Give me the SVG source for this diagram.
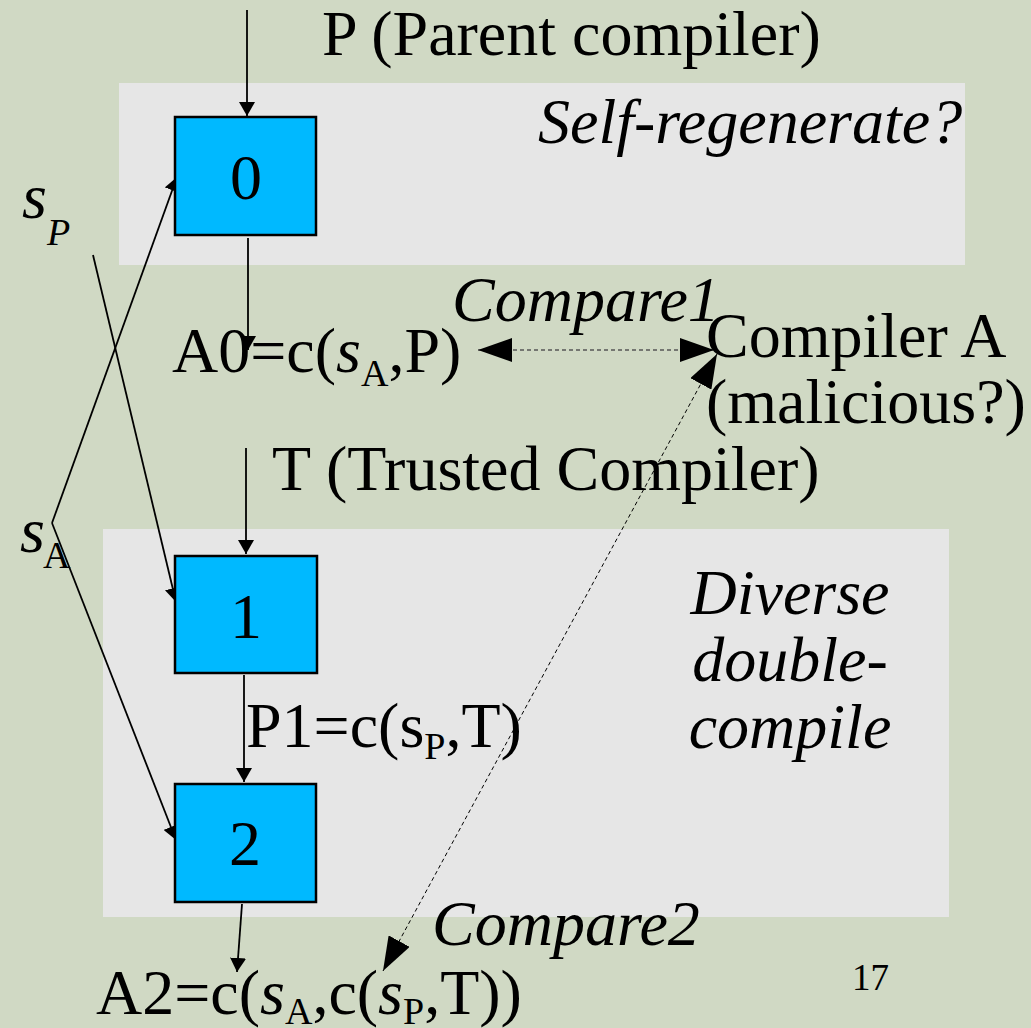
<svg xmlns="http://www.w3.org/2000/svg" width="1031" height="1028" viewBox="0 0 1031 1028">
<style>
text{font-family:"Liberation Serif","Times New Roman",serif;font-size:64px;fill:#000}
.it{font-style:italic}
.sub{font-size:38px}
.box{fill:#00b9ff;stroke:#000;stroke-width:2.5}
.ln{stroke:#000;stroke-width:1.8;fill:none}
.dash1{stroke:#555;stroke-width:1.5;stroke-dasharray:4 3;fill:none}
.dash2{stroke:#000;stroke-width:1;stroke-dasharray:4 3;fill:none}
</style>
<defs>
<marker id="ah" viewBox="0 0 14 16" refX="14" refY="8" markerWidth="14" markerHeight="16" markerUnits="userSpaceOnUse" orient="auto"><path d="M0,0 L14,8 L0,16 z" fill="#000"/></marker>
<marker id="big" viewBox="0 0 34 24" refX="34" refY="12" markerWidth="34" markerHeight="24" markerUnits="userSpaceOnUse" orient="auto-start-reverse"><path d="M0,0 L34,12 L0,24 z" fill="#000"/></marker>
</defs>
<rect width="1031" height="1028" fill="#d0d9c4"/>
<g id="panels">
<rect x="119" y="83" width="846" height="182" fill="#e6e6e6"/>
<rect x="103" y="529" width="846" height="388" fill="#e6e6e6"/>
</g>
<g id="connectors">
<line class="ln" x1="247" y1="10" x2="247" y2="116" marker-end="url(#ah)"/>
<line class="ln" x1="248" y1="238" x2="248" y2="350" marker-end="url(#ah)"/>
<line class="ln" x1="246" y1="448" x2="246" y2="554" marker-end="url(#ah)"/>
<line class="ln" x1="244" y1="675" x2="244" y2="782" marker-end="url(#ah)"/>
<line class="ln" x1="242" y1="904" x2="237" y2="972" marker-end="url(#ah)"/>
<line class="ln" x1="52" y1="523" x2="177" y2="177" marker-end="url(#ah)"/>
<line class="ln" x1="52" y1="523" x2="176" y2="840" marker-end="url(#ah)"/>
<line class="ln" x1="93" y1="255" x2="176" y2="602" marker-end="url(#ah)"/>
<line class="dash1" x1="478" y1="350" x2="714" y2="350" marker-start="url(#big)" marker-end="url(#big)"/>
<line class="dash2" x1="717" y1="354" x2="383" y2="971" marker-start="url(#big)" marker-end="url(#big)"/>
</g>
<g id="node0"><rect class="box" x="175" y="117" width="141" height="118"/><text x="246" y="199" text-anchor="middle">0</text></g>
<g id="node1"><rect class="box" x="175" y="556" width="142" height="117"/><text x="246" y="638" text-anchor="middle">1</text></g>
<g id="node2"><rect class="box" x="175" y="784" width="141" height="118"/><text x="245" y="865" text-anchor="middle">2</text></g>
<g id="labels">
<text x="322" y="55">P (Parent compiler)</text>
<text class="it" x="538" y="143">Self-regenerate?</text>
<text class="it" x="22" y="218">s</text><text class="it sub" x="47" y="245">P</text>
<text x="172" y="372">A0=c(<tspan class="it">s</tspan><tspan class="sub" dy="14">A</tspan><tspan dy="-14">,P)</tspan></text>
<text class="it" x="452" y="321">Compare1</text>
<text x="706" y="357">Compiler A</text>
<text x="706" y="423">(malicious?)</text>
<text x="272" y="490">T (Trusted Compiler)</text>
<text class="it" x="20" y="552">s</text><text class="sub" x="43" y="568">A</text>
<text x="246" y="747">P1=c(s<tspan class="sub" dy="12">P</tspan><tspan dy="-12">,T)</tspan></text>
<text class="it" x="790" y="614" text-anchor="middle">Diverse</text>
<text class="it" x="790" y="681" text-anchor="middle">double-</text>
<text class="it" x="790" y="748" text-anchor="middle">compile</text>
<text class="it" x="432" y="945">Compare2</text>
<text x="96" y="1014">A2=c(<tspan class="it">s</tspan><tspan class="sub" dy="10">A</tspan><tspan dy="-10">,c(</tspan><tspan class="it">s</tspan><tspan class="sub" dy="10">P</tspan><tspan dy="-10">,T))</tspan></text>
<text x="852" y="990" style="font-size:37px">17</text>
</g>
</svg>
